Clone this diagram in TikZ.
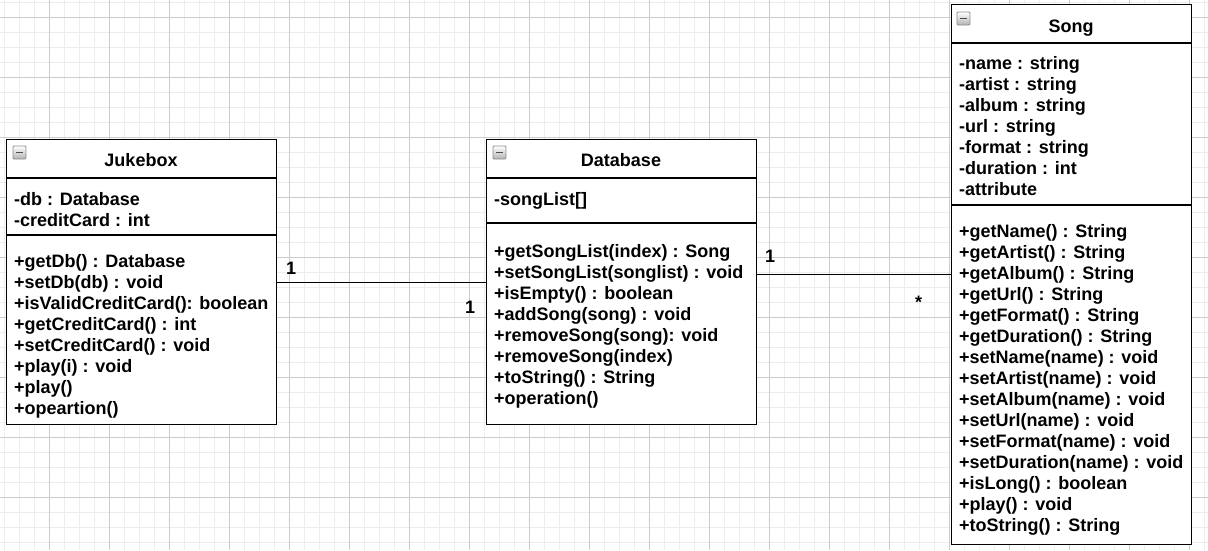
\documentclass[tikz,border=0pt]{standalone}
\usepackage{fontspec}
\setmainfont{Liberation Sans}
\newcommand{\umllines}[1]{\vtop{#1}}
\begin{document}
\begin{tikzpicture}[x=1pt,y=-1pt,
  minorgrid/.style={draw=black!7, line width=0.8pt},
  majorgrid/.style={draw=black!20, line width=0.8pt},
  umlbox/.style={draw=black, fill=white, line width=1.3pt, inner sep=0pt, anchor=north west},
  sepline/.style={draw=black, line width=1.3pt},
  txt/.style={inner sep=0pt, font=\fontsize{18}{21}\selectfont\bfseries},
  conn/.style={draw=black, line width=1.3pt},
  collapseicon/.pic={
    \draw[draw=black!45, top color=white, bottom color=black!30, rounded corners=1pt, line width=0.8pt] (0,0) rectangle (13,13);
    \draw[line width=1.8pt, black!70] (3,6.5) -- (10,6.5);
  }]
\useasboundingbox (0,0) rectangle (1208,550);
\fill[white] (0,0) rectangle (1208,550);
% grid
\foreach \i in {0,...,80} \draw[minorgrid] ({4+15*\i},0) -- ({4+15*\i},550);
\foreach \i in {0,...,36} \draw[minorgrid] (0,{2+15*\i}) -- (1208,{2+15*\i});
\foreach \i in {0,...,19} \draw[majorgrid] ({49+60*\i},0) -- ({49+60*\i},550);
\foreach \i in {0,...,8} \draw[majorgrid] (0,{17+60*\i}) -- (1208,{17+60*\i});

% boxes
\node[umlbox, minimum width=270pt, minimum height=285pt] (jukebox) at (6,139) {};
\node[umlbox, minimum width=270pt, minimum height=285pt] (database) at (486,139) {};
\node[umlbox, minimum width=240pt, minimum height=540pt] (song) at (951,4) {};

% separators
\draw[sepline] (jukebox.west |- 0,178) -- (jukebox.east |- 0,178);
\draw[sepline] (jukebox.west |- 0,235) -- (jukebox.east |- 0,235);
\draw[sepline] (database.west |- 0,178) -- (database.east |- 0,178);
\draw[sepline] (database.west |- 0,223) -- (database.east |- 0,223);
\draw[sepline] (song.west |- 0,43) -- (song.east |- 0,43);
\draw[sepline] (song.west |- 0,205) -- (song.east |- 0,205);

% icons
\pic at (13,146) {collapseicon};
\pic at (493,146) {collapseicon};
\pic at (957,12) {collapseicon};

% titles
\node[txt, anchor=base] (jtitle) at (141,166) {Jukebox};
\node[txt, anchor=base] (dtitle) at (621,166) {Database};
\node[txt, anchor=base] (stitle) at (1071,32) {Song};

% Jukebox contents
\node[txt, anchor=base west] (jattr) at (14,205) {\umllines{\hbox{-db : Database}\hbox{-creditCard : int}}};
\node[txt, anchor=base west] (jmeth) at (14,267) {\umllines{%
\hbox{+getDb() : Database}%
\hbox{+setDb(db) : void}%
\hbox{+isValidCreditCard(): boolean}%
\hbox{+getCreditCard() : int}%
\hbox{+setCreditCard() : void}%
\hbox{+play(i) : void}%
\hbox{+play()}%
\hbox{+opeartion()}}};

% Database contents
\node[txt, anchor=base west] (dattr) at (494,205) {-songList[]};
\node[txt, anchor=base west] (dmeth) at (494,257) {\umllines{%
\hbox{+getSongList(index) : Song}%
\hbox{+setSongList(songlist) : void}%
\hbox{+isEmpty() : boolean}%
\hbox{+addSong(song) : void}%
\hbox{+removeSong(song): void}%
\hbox{+removeSong(index)}%
\hbox{+toString() : String}%
\hbox{+operation()}}};

% Song contents
\node[txt, anchor=base west] (sattr) at (959,69) {\umllines{%
\hbox{-name : string}%
\hbox{-artist : string}%
\hbox{-album : string}%
\hbox{-url : string}%
\hbox{-format : string}%
\hbox{-duration : int}%
\hbox{-attribute}}};
\node[txt, anchor=base west] (smeth) at (959,237.5) {\umllines{%
\hbox{+getName() : String}%
\hbox{+getArtist() : String}%
\hbox{+getAlbum() : String}%
\hbox{+getUrl() : String}%
\hbox{+getFormat() : String}%
\hbox{+getDuration() : String}%
\hbox{+setName(name) : void}%
\hbox{+setArtist(name) : void}%
\hbox{+setAlbum(name) : void}%
\hbox{+setUrl(name) : void}%
\hbox{+setFormat(name) : void}%
\hbox{+setDuration(name) : void}%
\hbox{+isLong() : boolean}%
\hbox{+play() : void}%
\hbox{+toString() : String}}};

% connectors
\draw[conn] (jukebox) -- (database);
\draw[conn] (database.east |- song.west) -- (song.west);

% multiplicities
\node[txt, anchor=base west] (m1) at (286,274) {1};
\node[txt, anchor=base west] (m2) at (465,313) {1};
\node[txt, anchor=base west] (m3) at (765,262) {1};
\node[txt, anchor=base west] (m4) at (915,308) {*};
\end{tikzpicture}
\end{document}
